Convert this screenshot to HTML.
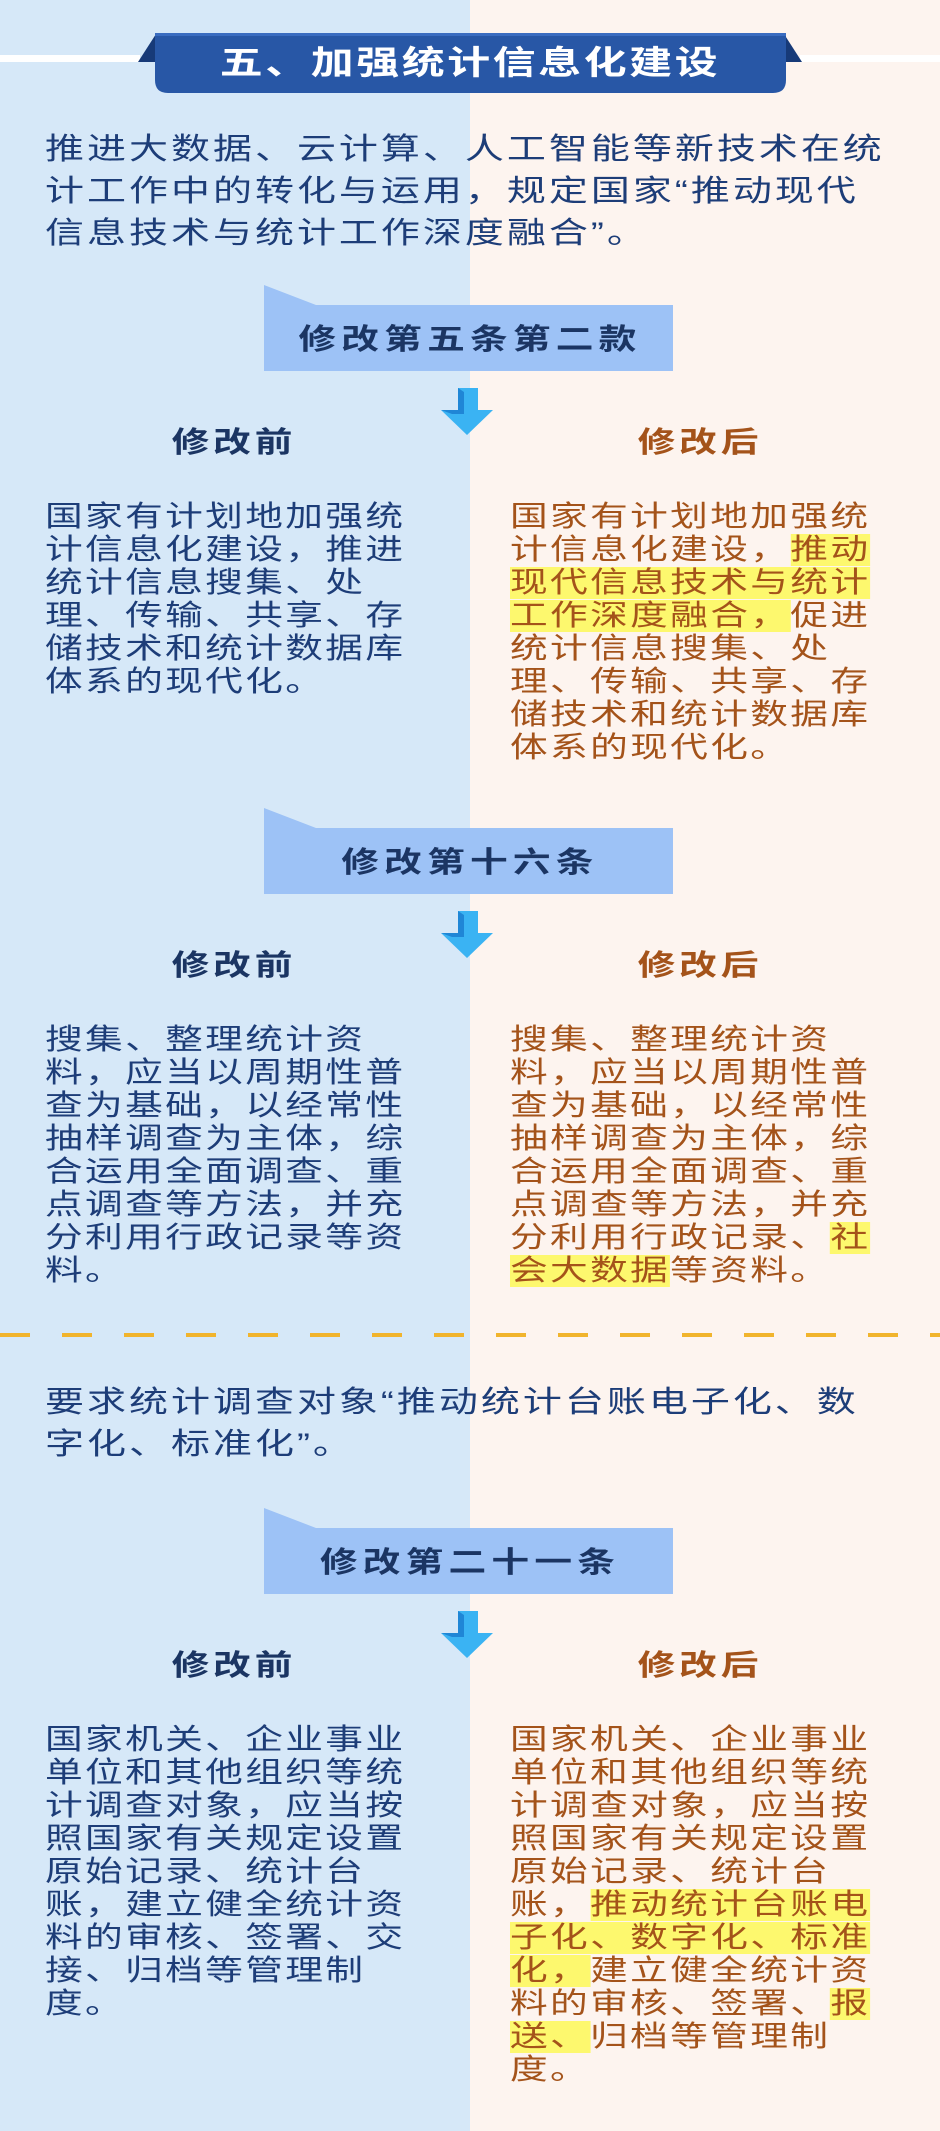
<!DOCTYPE html>
<html><head><meta charset="utf-8"><style>
html,body{margin:0;padding:0}
body{width:940px;height:2131px;position:relative;overflow:hidden;background:#d6e8f8;font-family:"Liberation Sans","Noto Sans CJK SC",sans-serif}
.r{position:absolute;left:470px;top:0;width:470px;height:2131px;background:#fdf4ef}
.t{position:absolute;white-space:nowrap;transform:scaleX(1.3);transform-origin:0 0}
.c{position:absolute;left:0;width:940px;text-align:center;white-space:nowrap;transform:scaleX(1.3);transform-origin:470px 0}
.b{font-size:29px;line-height:33px;letter-spacing:1.8px}
.L{color:#1d3d78;left:45px}
.R{color:#a4531a;left:510px}
.i{font-size:30px;line-height:42px;letter-spacing:2.3px;color:#1d3d78;left:45px}
.h{font-size:29px;font-weight:bold;color:#1b3563;letter-spacing:4px;line-height:30px}
.m{position:absolute;font-size:29px;font-weight:bold;line-height:30px;white-space:nowrap;transform:scaleX(1.3);transform-origin:50% 0;width:200px;text-align:center;letter-spacing:3px}
.y{background:#fdf86e}
</style></head><body>
<div class="r"></div>
<svg width="940" height="2131" style="position:absolute;left:0;top:0">
<rect x="0" y="55" width="140" height="7" fill="#fff"/>
<rect x="800" y="55" width="140" height="7" fill="#fff"/>
<polygon points="138,62 156,34 158,62" fill="#173a78"/>
<polygon points="802,62 784,34 782,62" fill="#173a78"/>
<path d="M155,33 H786 V80 Q786,93 773,93 H168 Q155,93 155,80 Z" fill="#2857a6"/>
<rect x="155" y="33" width="631" height="3" fill="#3a6cc0"/>
<g fill="#9dc2f6">
<polygon points="264,285 316,305 673,305 673,371 264,371"/>
<polygon points="264,808 316,828 673,828 673,894 264,894"/>
<polygon points="264,1508 316,1528 673,1528 673,1594 264,1594"/>
</g>
<g id="a">
<polygon points="458,388 478,388 478,410 493,410 467,435 441,410 458,410" fill="#3ab3f3"/>
<polygon points="458,388 464,392 464,414 452,414 441,410 458,410" fill="#1f86d6"/>
</g>
<use href="#a" y="523"/>
<use href="#a" y="1223"/>
<line x1="0" y1="1335" x2="940" y2="1335" stroke="#f1b42d" stroke-width="4" stroke-dasharray="30,32"/>
</svg>
<div class="c" style="top:44px;font-size:33px;font-weight:bold;color:#fff;line-height:38px;letter-spacing:2px">五、加强统计信息化建设</div>
<div class="t i" style="top:129px">推进大数据、云计算、人工智能等新技术在统<br>计工作中的转化与运用，规定国家“推动现代<br>信息技术与统计工作深度融合”。</div>

<div class="c h" style="top:325px">修改第五条第二款</div>
<div class="m" style="left:134px;top:428px;color:#1b3563">修改前</div>
<div class="m" style="left:600px;top:428px;color:#a4531a">修改后</div>
<div class="t b L" style="top:501px">国家有计划地加强统<br>计信息化建设，推进<br>统计信息搜集、处<br>理、传输、共享、存<br>储技术和统计数据库<br>体系的现代化。</div>
<div class="t b R" style="top:501px">国家有计划地加强统<br>计信息化建设，<span class="y">推动</span><br><span class="y">现代信息技术与统计</span><br><span class="y">工作深度融合，</span>促进<br>统计信息搜集、处<br>理、传输、共享、存<br>储技术和统计数据库<br>体系的现代化。</div>

<div class="c h" style="top:848px">修改第十六条</div>
<div class="m" style="left:134px;top:951px;color:#1b3563">修改前</div>
<div class="m" style="left:600px;top:951px;color:#a4531a">修改后</div>
<div class="t b L" style="top:1024px">搜集、整理统计资<br>料，应当以周期性普<br>查为基础，以经常性<br>抽样调查为主体，综<br>合运用全面调查、重<br>点调查等方法，并充<br>分利用行政记录等资<br>料。</div>
<div class="t b R" style="top:1024px">搜集、整理统计资<br>料，应当以周期性普<br>查为基础，以经常性<br>抽样调查为主体，综<br>合运用全面调查、重<br>点调查等方法，并充<br>分利用行政记录、<span class="y">社</span><br><span class="y">会大数据</span>等资料。</div>

<div class="t i" style="top:1382px">要求统计调查对象“推动统计台账电子化、数<br>字化、标准化”。</div>

<div class="c h" style="top:1548px">修改第二十一条</div>
<div class="m" style="left:134px;top:1651px;color:#1b3563">修改前</div>
<div class="m" style="left:600px;top:1651px;color:#a4531a">修改后</div>
<div class="t b L" style="top:1724px">国家机关、企业事业<br>单位和其他组织等统<br>计调查对象，应当按<br>照国家有关规定设置<br>原始记录、统计台<br>账，建立健全统计资<br>料的审核、签署、交<br>接、归档等管理制<br>度。</div>
<div class="t b R" style="top:1724px">国家机关、企业事业<br>单位和其他组织等统<br>计调查对象，应当按<br>照国家有关规定设置<br>原始记录、统计台<br>账，<span class="y">推动统计台账电</span><br><span class="y">子化、数字化、标准</span><br><span class="y">化，</span>建立健全统计资<br>料的审核、签署、<span class="y">报</span><br><span class="y">送、</span>归档等管理制<br>度。</div>
</body></html>
